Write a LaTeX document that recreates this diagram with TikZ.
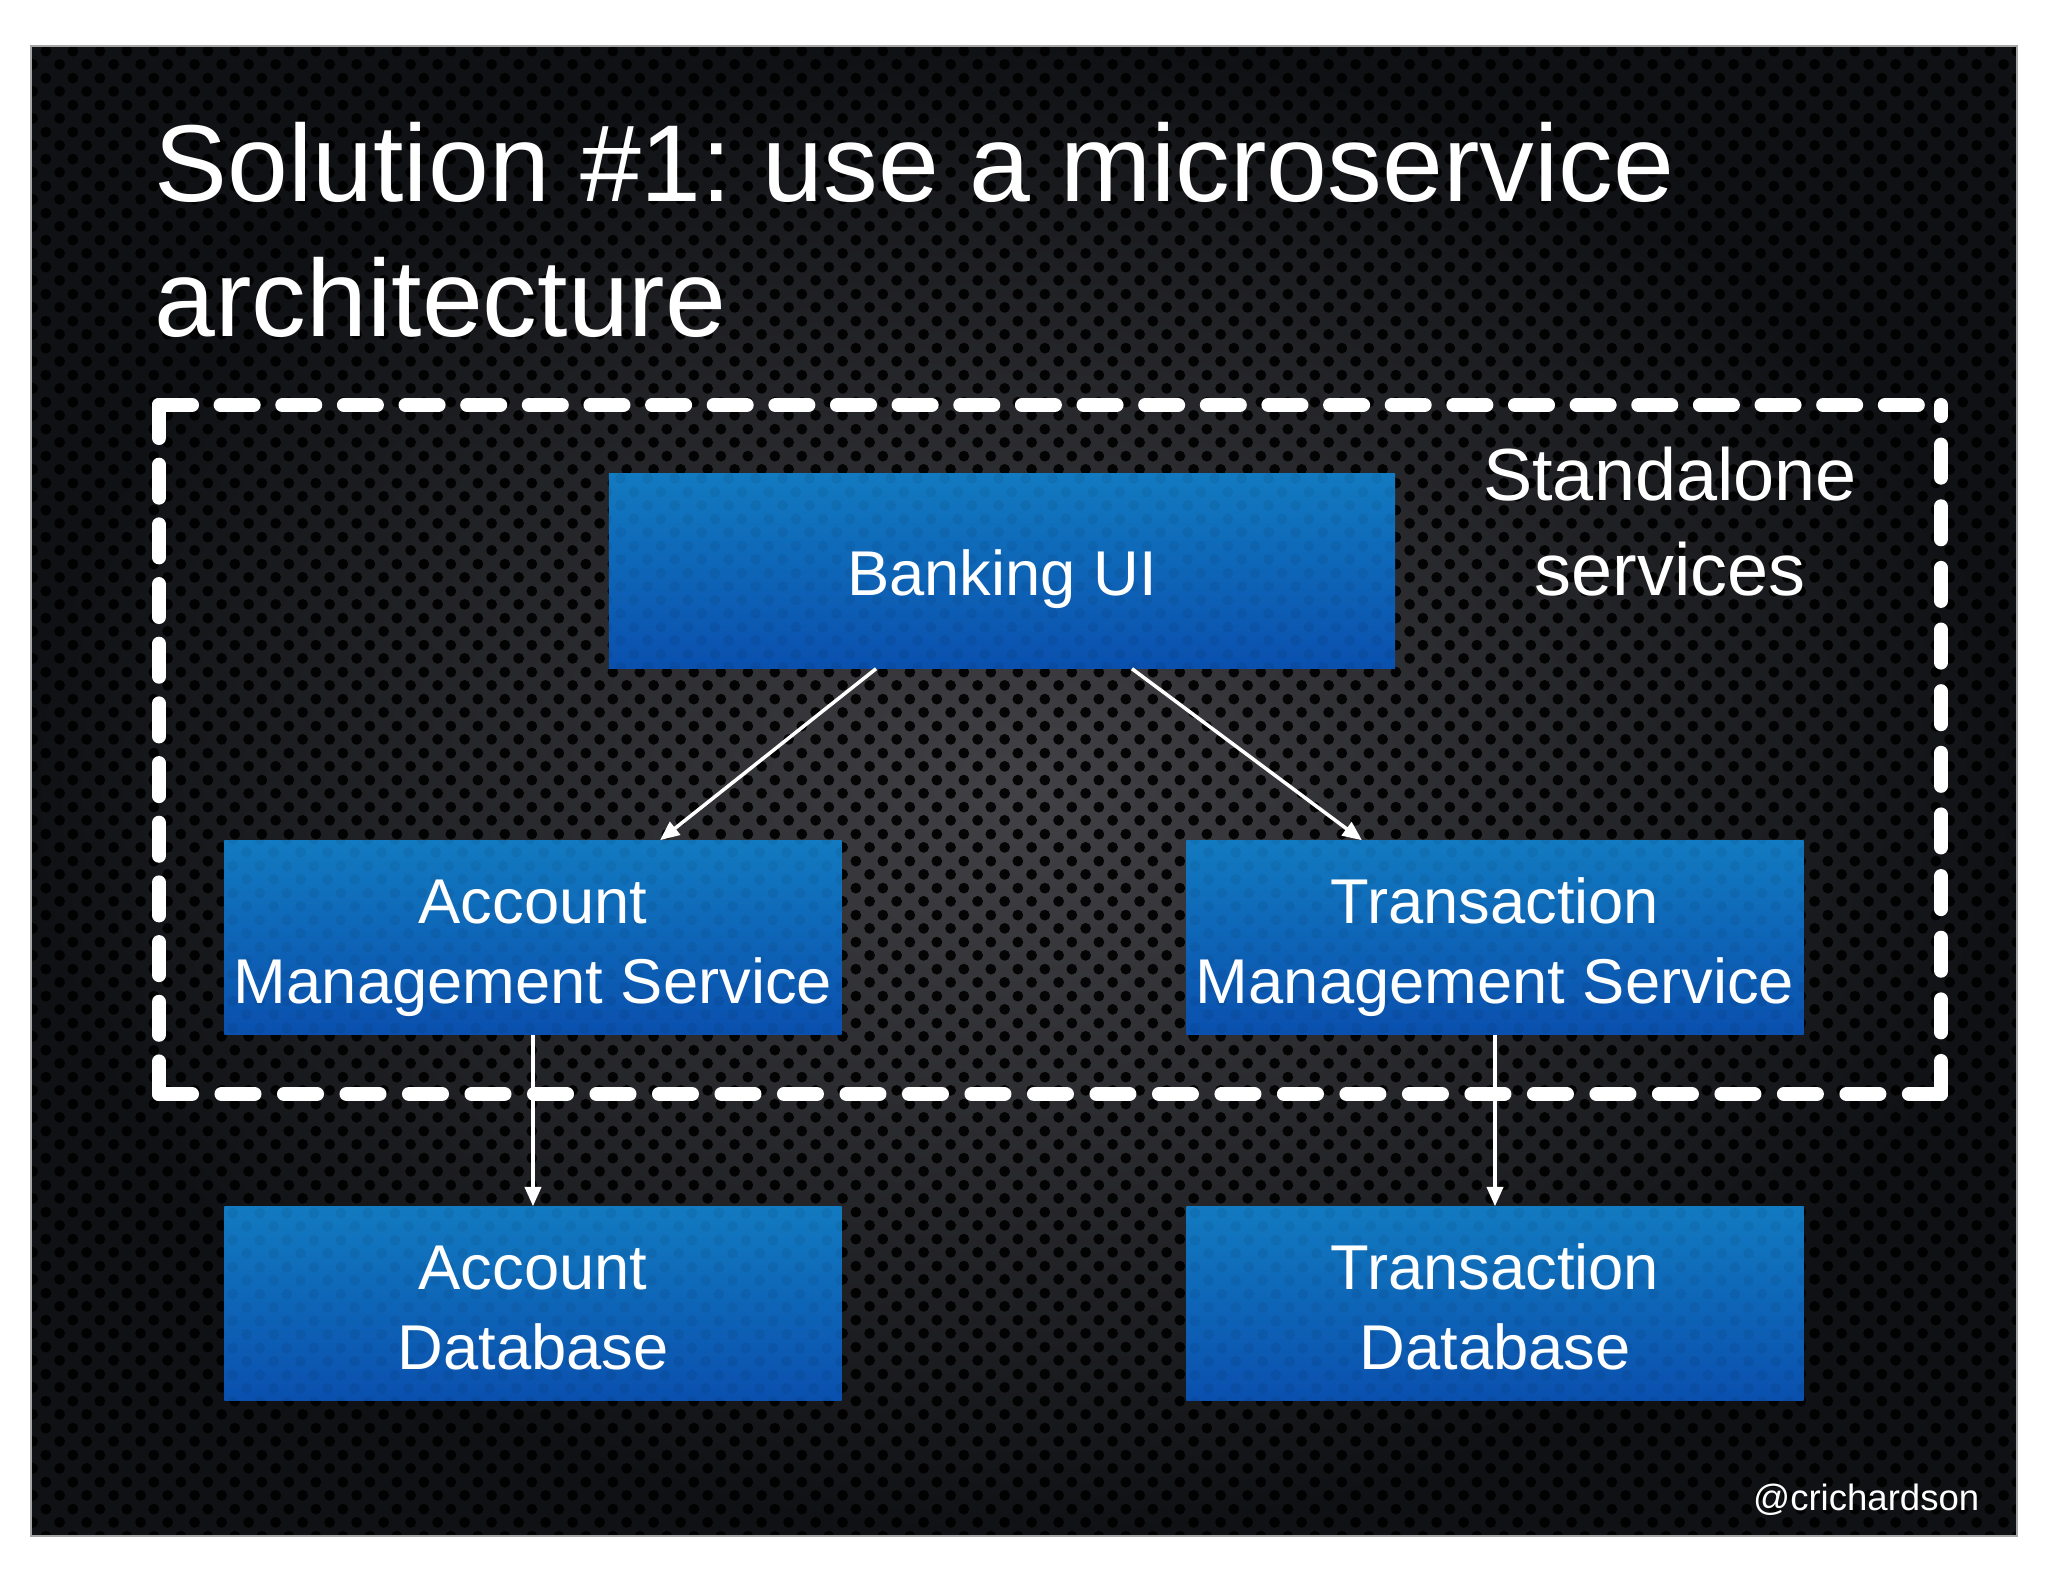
\documentclass[tikz,border=0pt]{standalone}
\usepackage{fontspec}
\setmainfont{Liberation Sans}
\usetikzlibrary{arrows.meta,patterns.meta}
\definecolor{boxtop}{RGB}{18,122,192}
\definecolor{boxbot}{RGB}{10,80,174}
\definecolor{bginner}{RGB}{66,66,70}
\definecolor{bgouter}{RGB}{16,17,20}
\tikzdeclarepattern{
  name=holes,
  type=uncolored,
  bounding box={(0pt,0pt) and (7.6pt,7.6pt)},
  tile size={(7.6pt,7.6pt)},
  code={
    \pgfpathcircle{\pgfpoint{1.9pt}{1.9pt}}{1.55pt}
    \pgfpathcircle{\pgfpoint{5.7pt}{5.7pt}}{1.55pt}
    \pgfusepath{fill}
  }
}
\tikzset{
  box/.style={rectangle, top color=boxtop, bottom color=boxbot, draw=none,
    text=white, font=\fontsize{18}{22.8}\selectfont, align=center,
    inner sep=0pt, text depth=0pt,
    postaction={pattern=holes, pattern color=black, fill opacity=0.06}},
  smallbox/.style={box, minimum width=6.17cm, minimum height=1.93cm, text height=37.7pt},
  dbox/.style={draw=white, line width=0.14cm, line cap=round},
  arr/.style={draw=white, line width=1pt, -{Triangle[length=5.5pt,width=4.6pt]}},
  wtext/.style={text=white, inner sep=0pt}
}
\begin{document}
\frenchspacing
\begin{tikzpicture}[x=0.01cm, y=-0.01cm]
\useasboundingbox (0,0) rectangle (2048,1582);
\fill[white] (0,0) rectangle (2048,1582);
% background slide
\shade[inner color=bginner, outer color=bgouter] (31,46) rectangle (2017,1536);
\fill[pattern=holes, pattern color=black, fill opacity=0.92] (31,46) rectangle (2017,1536);
\draw[gray!70, line width=0.6pt] (31,46) rectangle (2017,1536);

% title
\node[wtext, anchor=base west, font=\fontsize{31.1}{37}\selectfont] (title1) at (154,202) {Solution \#1: use a microservice};
\node[wtext, anchor=base west, font=\fontsize{31.1}{37}\selectfont] (title2) at (154,337) {architecture};

% dashed boundary
\coordinate (TL) at (159,405);
\coordinate (TR) at (1941,405);
\coordinate (BR) at (1941,1094);
\coordinate (BL) at (159,1094);
\draw[dbox, dash pattern=on 0.33cm off 0.286cm] (TL) -- (TR);
\draw[dbox, dash pattern=on 0.33cm off 0.2664cm] (TL) -- (BL);
\draw[dbox, dash pattern=on 0.33cm off 0.2946cm] (BL) -- (BR);
\draw[dbox, dash pattern=on 0.33cm off 0.286cm] (BR) -- (TR);

\node[wtext, align=center, font=\fontsize{21}{27}\selectfont] (standalone) at (1670,522) {Standalone\\services};

% boxes
\node[box, minimum width=7.86cm, minimum height=1.94cm, text height=14pt] (ui) at (1002,571) {Banking UI};
\node[smallbox] (ams) at (533,937.5) {Account\\Management Service};
\node[smallbox] (tms) at (1495,937.5) {Transaction\\Management Service};
\node[smallbox] (adb) at (533,1303.5) {Account\\Database};
\node[smallbox] (tdb) at (1495,1303.5) {Transaction\\Database};

% connectors
\coordinate (u1) at (876,0);
\coordinate (u2) at (1132,0);
\coordinate (a1) at (660,0);
\coordinate (t1) at (1362,0);
\draw[arr] (ui.south -| u1) -- (ams.north -| a1);
\draw[arr] (ui.south -| u2) -- (tms.north -| t1);
\draw[arr] (ams.south) -- (adb.north);
\draw[arr] (tms.south) -- (tdb.north);

% footer
\node[wtext, anchor=base east, font=\fontsize{10.4}{12}\selectfont] (handle) at (1980,1510) {@crichardson};
\end{tikzpicture}
\end{document}
